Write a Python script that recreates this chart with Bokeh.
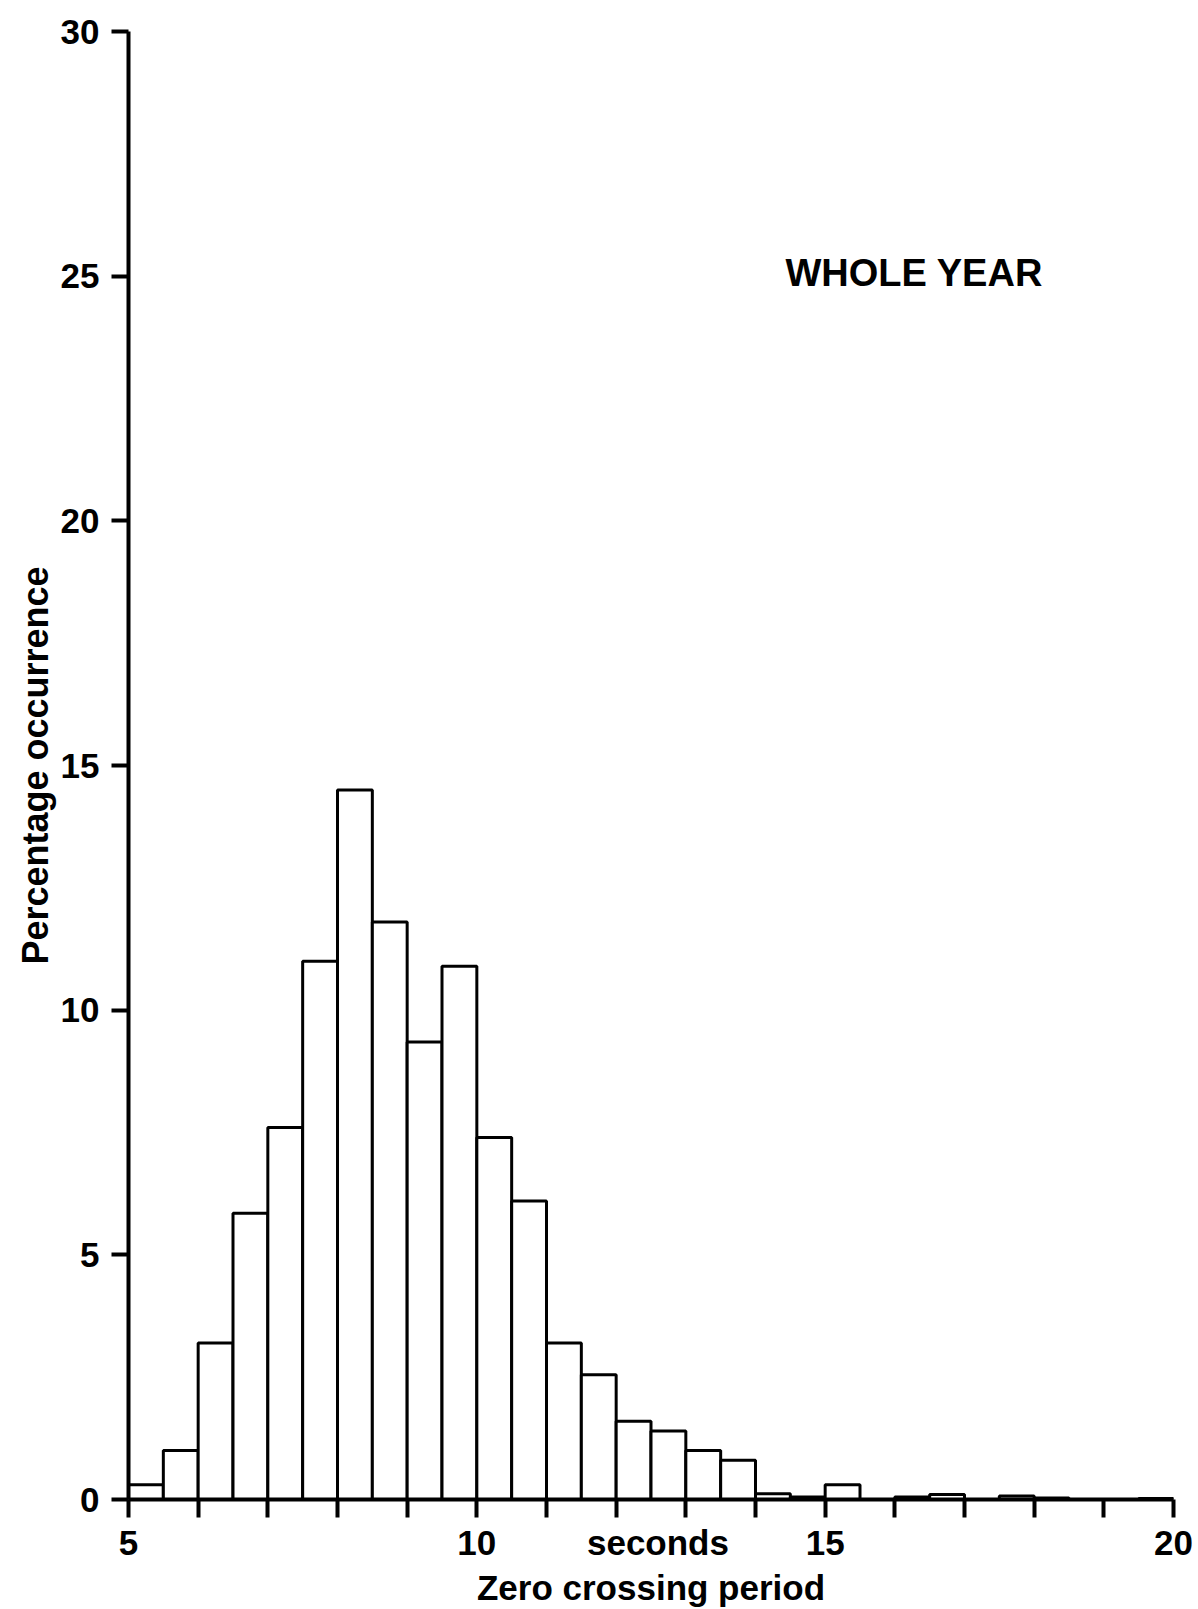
from bokeh.plotting import figure
from bokeh.models import FixedTicker, Label, Range1d
from bokeh.embed import file_html
from bokeh.resources import INLINE

# Histogram bin edges (seconds) and percentage occurrence
bin_left = [5.0, 5.5, 6.0, 6.5, 7.0, 7.5, 8.0, 8.5, 9.0, 9.5,
            10.0, 10.5, 11.0, 11.5, 12.0, 12.5, 13.0, 13.5, 14.0, 14.5,
            15.0, 15.5, 16.0, 16.5, 17.0, 17.5, 18.0, 18.5, 19.0, 19.5]
bin_right = [b + 0.5 for b in bin_left]
percent = [0.3, 1.0, 3.2, 5.85, 7.6, 11.0, 14.5, 11.8, 9.35, 10.9,
           7.4, 6.1, 3.2, 2.55, 1.6, 1.4, 1.0, 0.8, 0.12, 0.05,
           0.3, 0.0, 0.05, 0.1, 0.0, 0.07, 0.03, 0.0, 0.0, 0.02]

x_labels = {5: "5", 10: "10", 12.6: "seconds", 15: "15", 20: "20"}
x_tick_marks = [5, 6, 7, 8, 9, 10, 11, 12, 13, 14, 15, 16, 17, 18, 19, 20]
y_major = [0, 5, 10, 15, 20, 25, 30]

FONT = "Liberation Sans"

p = figure(width=1198, height=1609, output_backend="svg", toolbar_location=None,
           x_range=Range1d(5, 20), y_range=Range1d(0, 30),
           min_border_left=128, min_border_right=25,
           min_border_top=31, min_border_bottom=110)

p.quad(left=bin_left, right=bin_right, bottom=0, top=percent,
       fill_color="white", line_color="black", line_width=3)

p.outline_line_color = None
p.xgrid.grid_line_color = None
p.ygrid.grid_line_color = None
p.background_fill_color = "white"
p.border_fill_color = "white"

xa = p.xaxis[0]
xa.ticker = FixedTicker(ticks=list(x_labels.keys()), minor_ticks=x_tick_marks)
xa.major_label_overrides = {k: v for k, v in x_labels.items()}
xa.axis_line_width = 4
xa.axis_line_color = "black"
xa.major_tick_line_color = None
xa.major_tick_out = 18
xa.major_tick_in = 0
xa.minor_tick_line_width = 4
xa.minor_tick_line_color = "black"
xa.minor_tick_out = 18
xa.minor_tick_in = 0
xa.major_label_text_font = FONT
xa.major_label_text_font_size = "35px"
xa.major_label_text_font_style = "bold"
xa.major_label_text_color = "black"
xa.major_label_standoff = 5
xa.axis_label = "Zero crossing period"
xa.axis_label_text_font = FONT
xa.axis_label_text_font_size = "35px"
xa.axis_label_text_font_style = "bold"
xa.axis_label_text_color = "black"
xa.axis_label_standoff = 3

ya = p.yaxis[0]
ya.ticker = FixedTicker(ticks=y_major, minor_ticks=[])
ya.axis_line_width = 4
ya.axis_line_color = "black"
ya.major_tick_line_width = 4
ya.major_tick_line_color = "black"
ya.major_tick_out = 17
ya.major_tick_in = 0
ya.minor_tick_out = 0
ya.minor_tick_in = 0
ya.major_label_text_font = FONT
ya.major_label_text_font_size = "35px"
ya.major_label_text_font_style = "bold"
ya.major_label_text_color = "black"
ya.major_label_standoff = 12
ya.axis_label = "Percentage occurrence"
ya.axis_label_text_font = FONT
ya.axis_label_text_font_size = "36px"
ya.axis_label_text_font_style = "bold"
ya.axis_label_text_color = "black"
ya.axis_label_standoff = 2

p.add_layout(Label(x=14.43, y=25.07, text="WHOLE YEAR", text_font=FONT,
                   text_font_size="38px", text_font_style="bold",
                   text_align="left", text_baseline="middle", text_color="black"))

open("out.html", "w").write(file_html(p, INLINE))
